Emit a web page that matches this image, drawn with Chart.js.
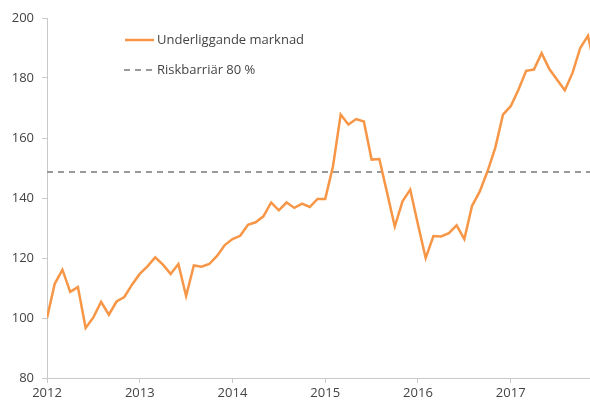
<!DOCTYPE html>
<html>
<head>
<meta charset="utf-8">
<script src="https://cdn.jsdelivr.net/npm/chart.js@4"></script>
<style>
  html, body { margin: 0; padding: 0; background: #fff; }
  #wrap { width: 590px; height: 401px; }
</style>
</head>
<body>
<div id="wrap"><canvas id="chart" width="590" height="401"></canvas></div>
<script>
// Månadsvärden från jan 2012 (index 0) och framåt
const marketValues = [
  100, 111.4, 116.1, 108.7, 110.3, 96.7, 100.2, 105.4, 101.1, 105.5, 107, 111.1,
  114.7, 117.2, 120.2, 117.8, 114.7, 118, 107.3, 117.5, 117.1, 118, 120.7, 124.3,
  126.3, 127.4, 131.1, 131.9, 133.9, 138.5, 135.9, 138.5, 136.7, 138.1, 137, 139.7,
  139.7, 150.5, 167.8, 164.5, 166.3, 165.5, 152.8, 153, 141.8, 130.5, 138.9, 142.8,
  131.2, 120, 127.3, 127.2, 128.3, 130.9, 126.3, 137.4, 142.2, 148.9, 156.7, 167.8,
  170.6, 176.1, 182.4, 182.8, 188.3, 183, 179.4, 175.9, 181.7, 190, 194.1, 182
];
const barrierLevel = 148.7;
const yearLabels = ["2012", "2013", "2014", "2015", "2016", "2017"];
const yTicks = [80, 100, 120, 140, 160, 180, 200];
const xEnd = 70.26;

const seriesNames = ["Underliggande marknad", "Riskbarriär 80 %"];
const orange = "#f79646";
const dashGray = "#9a9a9a";
const axisGray = "#c9c9c9";
const textColor = "#444";
const fontFamily = "'Open Sans', 'Liberation Sans', sans-serif";
const dash = [6, 5];

const marketPoints = marketValues.map((v, i) => ({ x: i, y: v }));
const barrierPoints = [{ x: 0, y: barrierLevel }, { x: xEnd, y: barrierLevel }];

// Egen legend uppe till vänster i diagramytan
const legendPlugin = {
  id: "customLegend",
  afterDraw(chart) {
    const ctx = chart.ctx;
    ctx.save();
    ctx.font = "13px " + fontFamily;
    ctx.fillStyle = textColor;
    ctx.textBaseline = "middle";

    ctx.strokeStyle = orange;
    ctx.lineWidth = 2.5;
    ctx.beginPath();
    ctx.moveTo(125, 40);
    ctx.lineTo(154, 40);
    ctx.stroke();
    ctx.fillText(seriesNames[0], 157, 40);

    ctx.strokeStyle = dashGray;
    ctx.lineWidth = 2;
    ctx.setLineDash(dash);
    ctx.beginPath();
    ctx.moveTo(124, 70);
    ctx.lineTo(153, 70);
    ctx.stroke();
    ctx.setLineDash([]);
    ctx.fillText(seriesNames[1], 157, 70);
    ctx.restore();
  }
};

new Chart(document.getElementById("chart"), {
  type: "line",
  data: {
    datasets: [
      {
        label: seriesNames[0],
        data: marketPoints,
        borderColor: orange,
        borderWidth: 2.5,
        pointRadius: 0,
        tension: 0,
        fill: false
      },
      {
        label: seriesNames[1],
        data: barrierPoints,
        borderColor: dashGray,
        borderWidth: 2,
        borderDash: dash,
        pointRadius: 0,
        fill: false
      }
    ]
  },
  options: {
    responsive: false,
    animation: false,
    events: [],
    layout: { padding: { top: 18, right: 0, left: 0, bottom: 0 } },
    plugins: {
      legend: { display: false },
      tooltip: { enabled: false }
    },
    scales: {
      x: {
        type: "linear",
        min: 0,
        max: xEnd,
        afterBuildTicks: (scale) => {
          scale.ticks = yearLabels.map((_, i) => ({ value: i * 12 }));
        },
        afterFit: (scale) => { scale.height = 23; },
        ticks: {
          callback: (v) => yearLabels[Math.round(v / 12)],
          color: textColor,
          font: { family: fontFamily, size: 13 },
          padding: 2,
          maxRotation: 0,
          autoSkip: false
        },
        grid: { drawOnChartArea: false, drawTicks: true, tickLength: 5, color: axisGray },
        border: { display: true, color: axisGray, width: 1 }
      },
      y: {
        min: 80,
        max: 200,
        afterBuildTicks: (scale) => {
          scale.ticks = yTicks.map(v => ({ value: v }));
        },
        afterFit: (scale) => { scale.width = 47; },
        ticks: {
          color: textColor,
          font: { family: fontFamily, size: 13 },
          padding: 8
        },
        grid: { drawOnChartArea: false, drawTicks: true, tickLength: 5, color: axisGray },
        border: { display: true, color: axisGray, width: 1 }
      }
    }
  },
  plugins: [legendPlugin]
});
</script>
</body>
</html>
